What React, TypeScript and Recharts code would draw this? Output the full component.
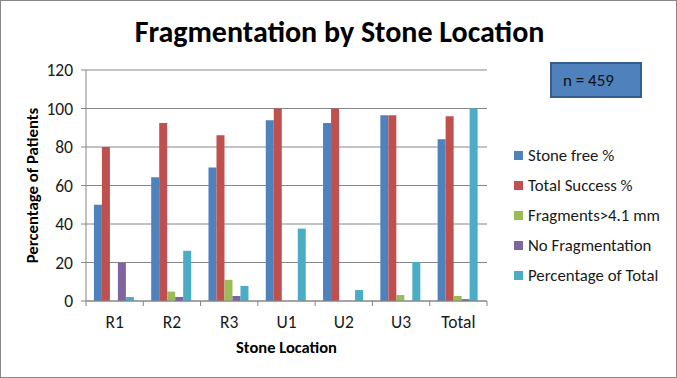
import { BarChart, Bar, XAxis, YAxis, CartesianGrid } from "recharts";

const locations = ["R1", "R2", "R3", "U1", "U2", "U3", "Total"];
const stoneFree = [50, 64.3, 69.4, 93.9, 92.5, 96.5, 84];
const totalSuccess = [80, 92.5, 86.1, 100, 100, 96.5, 96];
const fragmentsOver41 = [0, 4.9, 11, 0, 0, 3.1, 2.6];
const noFragmentation = [19.8, 2.1, 2.6, 0, 0, 0, 1];
const percentOfTotal = [2.1, 26.1, 7.8, 37.6, 5.7, 20.3, 100];
const yTicks = [0, 20, 40, 60, 80, 100, 120];

const SERIES = [
  { key: "stoneFree", label: "Stone free %", color: "#4F81BD" },
  { key: "totalSuccess", label: "Total Success %", color: "#C0504D" },
  { key: "fragments", label: "Fragments>4.1 mm", color: "#9BBB59" },
  { key: "noFrag", label: "No Fragmentation", color: "#8064A2" },
  { key: "pctTotal", label: "Percentage of Total", color: "#4BACC6" },
];

const data = locations.map((loc, i) => ({
  loc,
  stoneFree: stoneFree[i],
  totalSuccess: totalSuccess[i],
  fragments: fragmentsOver41[i],
  noFrag: noFragmentation[i],
  pctTotal: percentOfTotal[i],
}));

const FONT = "Carlito, Calibri, Lato, sans-serif";
const AXIS_GRAY = "#868686";
const TICK_MARGIN = 15;

// category label plus excel-style tick marks on the category boundaries
function LocationTick(props: any) {
  const { x, y, payload, index, visibleTicksCount } = props;
  const half = payload?.offset ?? 0;
  const axisY = y - TICK_MARGIN;
  const isLast = index === visibleTicksCount - 1;
  return (
    <g>
      <line x1={x - half} x2={x - half} y1={axisY} y2={axisY + 5} stroke={AXIS_GRAY} />
      {isLast && (
        <line x1={x + half} x2={x + half} y1={axisY} y2={axisY + 5} stroke={AXIS_GRAY} />
      )}
      <text
        x={x}
        y={y}
        dy="0.71em"
        textAnchor="middle"
        fill="#1a1a1a"
        fontSize={17.5}
        fontFamily={FONT}
      >
        {payload.value}
      </text>
    </g>
  );
}

export default function App() {
  return (
    <div
      style={{
        position: "fixed",
        top: 0,
        left: 0,
        width: 677,
        height: 378,
        background: "#fff",
        border: "1px solid #888",
        boxSizing: "border-box",
        fontFamily: FONT,
      }}
    >
      <div
        style={{
          position: "absolute",
          top: 12,
          left: 0,
          width: 677,
          textAlign: "center",
          fontSize: 30,
          fontWeight: "bold",
          color: "#000",
        }}
      >
        Fragmentation by Stone Location
      </div>
      <div
        style={{
          position: "absolute",
          left: 549,
          top: 61,
          width: 92,
          height: 36,
          boxSizing: "border-box",
          background: "#4F81BD",
          border: "2px solid #385D8A",
          color: "#111",
          fontSize: 17,
          display: "flex",
          alignItems: "center",
          paddingLeft: 11,
        }}
      >
        n = 459
      </div>
      <div
        style={{
          position: "absolute",
          left: 513,
          top: 139,
          fontSize: 16.8,
          color: "#1a1a1a",
        }}
      >
        {SERIES.map((s) => (
          <div
            key={s.key}
            style={{ display: "flex", alignItems: "center", height: 30 }}
          >
            <span
              style={{
                width: 9,
                height: 9,
                background: s.color,
                marginRight: 5,
                display: "inline-block",
              }}
            />
            {s.label}
          </div>
        ))}
      </div>
      <BarChart
        width={675}
        height={376}
        data={data}
        margin={{ top: 69, right: 189, left: 22, bottom: 24 }}
        barGap={0}
        barCategoryGap="13.8%"
        style={{ position: "absolute", top: 0, left: 0 }}
      >
        <CartesianGrid
          vertical={false}
          stroke={AXIS_GRAY}
          horizontalValues={yTicks}
        />
        <XAxis
          dataKey="loc"
          stroke={AXIS_GRAY}
          tickLine={false}
          tickSize={0}
          height={52}
          interval={0}
          tick={<LocationTick />}
          tickMargin={TICK_MARGIN}
          label={{
            value: "Stone Location",
            position: "insideBottom",
            offset: 0,
            fill: "#000",
            fontSize: 16.5,
            fontWeight: "bold",
            fontFamily: FONT,
          }}
        />
        <YAxis
          domain={[0, 120]}
          ticks={yTicks}
          width={63}
          stroke={AXIS_GRAY}
          tickSize={5}
          tick={{ fill: "#1a1a1a", fontSize: 17.5, fontFamily: FONT }}
          tickMargin={8}
          label={{
            value: "Percentage of Patients",
            angle: -90,
            position: "insideLeft",
            offset: 9,
            style: { textAnchor: "middle" },
            fill: "#000",
            fontSize: 16.8,
            fontWeight: "bold",
            fontFamily: FONT,
          }}
        />
        {SERIES.map((s) => (
          <Bar
            key={s.key}
            dataKey={s.key}
            name={s.label}
            fill={s.color}
            isAnimationActive={false}
          />
        ))}
      </BarChart>
    </div>
  );
}
